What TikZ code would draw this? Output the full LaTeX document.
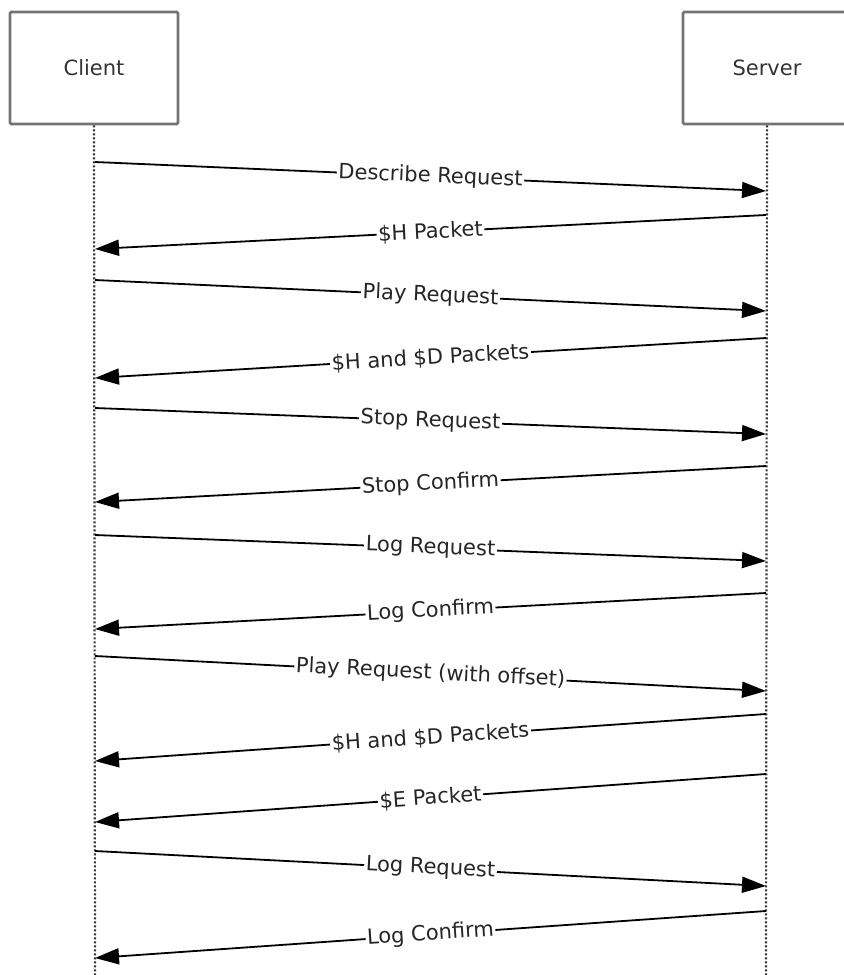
\documentclass[tikz,border=0pt]{standalone}
\usepackage{fontspec}
\setmainfont{DejaVu Sans}
\usetikzlibrary{arrows.meta}

\begin{document}
\begin{tikzpicture}[x=0.5pt, y=-0.5pt, font=\fontsize{10.5}{12}\selectfont,
    party/.style={draw=black!55, line width=1.3pt, rectangle, rounded corners=0.6pt, minimum width=84pt, minimum height=56pt, inner sep=0pt, text=black!80},
    life/.style={draw=black!80, line width=1.1pt, dash pattern=on 1pt off 1pt},
    msg/.style={draw=black, line width=0.9pt, -{Triangle[length=12pt, width=8pt]}},
    lbl/.style={fill=white, inner sep=0.8pt, sloped, pos=0.5, text=black!85}]

    \useasboundingbox (0,0) rectangle (843,975);

    % Participants
    \node[party] (client) at (94,68) {Client};
    \node[party] (server) at (767,68) {Server};

    % Lifelines
    \coordinate (cend) at (95,975);
    \coordinate (send) at (766,975);
    \draw[life] (client.south) -- (cend);
    \draw[life] (server.south) -- (send);

    % Message end points
    \coordinate (c1) at (95,162);   \coordinate (s1) at (766,191);
    \coordinate (s2) at (766,215);  \coordinate (c2) at (95,249);
    \coordinate (c3) at (95,280);   \coordinate (s3) at (766,311);
    \coordinate (s4) at (766,338);  \coordinate (c4) at (95,378);
    \coordinate (c5) at (95,408);   \coordinate (s5) at (766,434);
    \coordinate (s6) at (766,466);  \coordinate (c6) at (95,502);
    \coordinate (c7) at (95,535);   \coordinate (s7) at (766,561);
    \coordinate (s8) at (766,593);  \coordinate (c8) at (95,629);
    \coordinate (c9) at (95,656);   \coordinate (s9) at (766,691);
    \coordinate (s10) at (766,714); \coordinate (c10) at (95,761);
    \coordinate (s11) at (766,774); \coordinate (c11) at (95,822);
    \coordinate (c12) at (95,851);  \coordinate (s12) at (766,886);
    \coordinate (s13) at (766,911); \coordinate (c13) at (95,958);

    % Messages
    \draw[msg] (c1) -- node[lbl] {Describe Request} (s1);
    \draw[msg] (s2) -- node[lbl] {\$H Packet} (c2);
    \draw[msg] (c3) -- node[lbl] {Play Request} (s3);
    \draw[msg] (s4) -- node[lbl] {\$H and \$D Packets} (c4);
    \draw[msg] (c5) -- node[lbl] {Stop Request} (s5);
    \draw[msg] (s6) -- node[lbl] {Stop Confirm} (c6);
    \draw[msg] (c7) -- node[lbl] {Log Request} (s7);
    \draw[msg] (s8) -- node[lbl] {Log Confirm} (c8);
    \draw[msg] (c9) -- node[lbl] {Play Request (with offset)} (s9);
    \draw[msg] (s10) -- node[lbl] {\$H and \$D Packets} (c10);
    \draw[msg] (s11) -- node[lbl] {\$E Packet} (c11);
    \draw[msg] (c12) -- node[lbl] {Log Request} (s12);
    \draw[msg] (s13) -- node[lbl] {Log Confirm} (c13);

\end{tikzpicture}
\end{document}
